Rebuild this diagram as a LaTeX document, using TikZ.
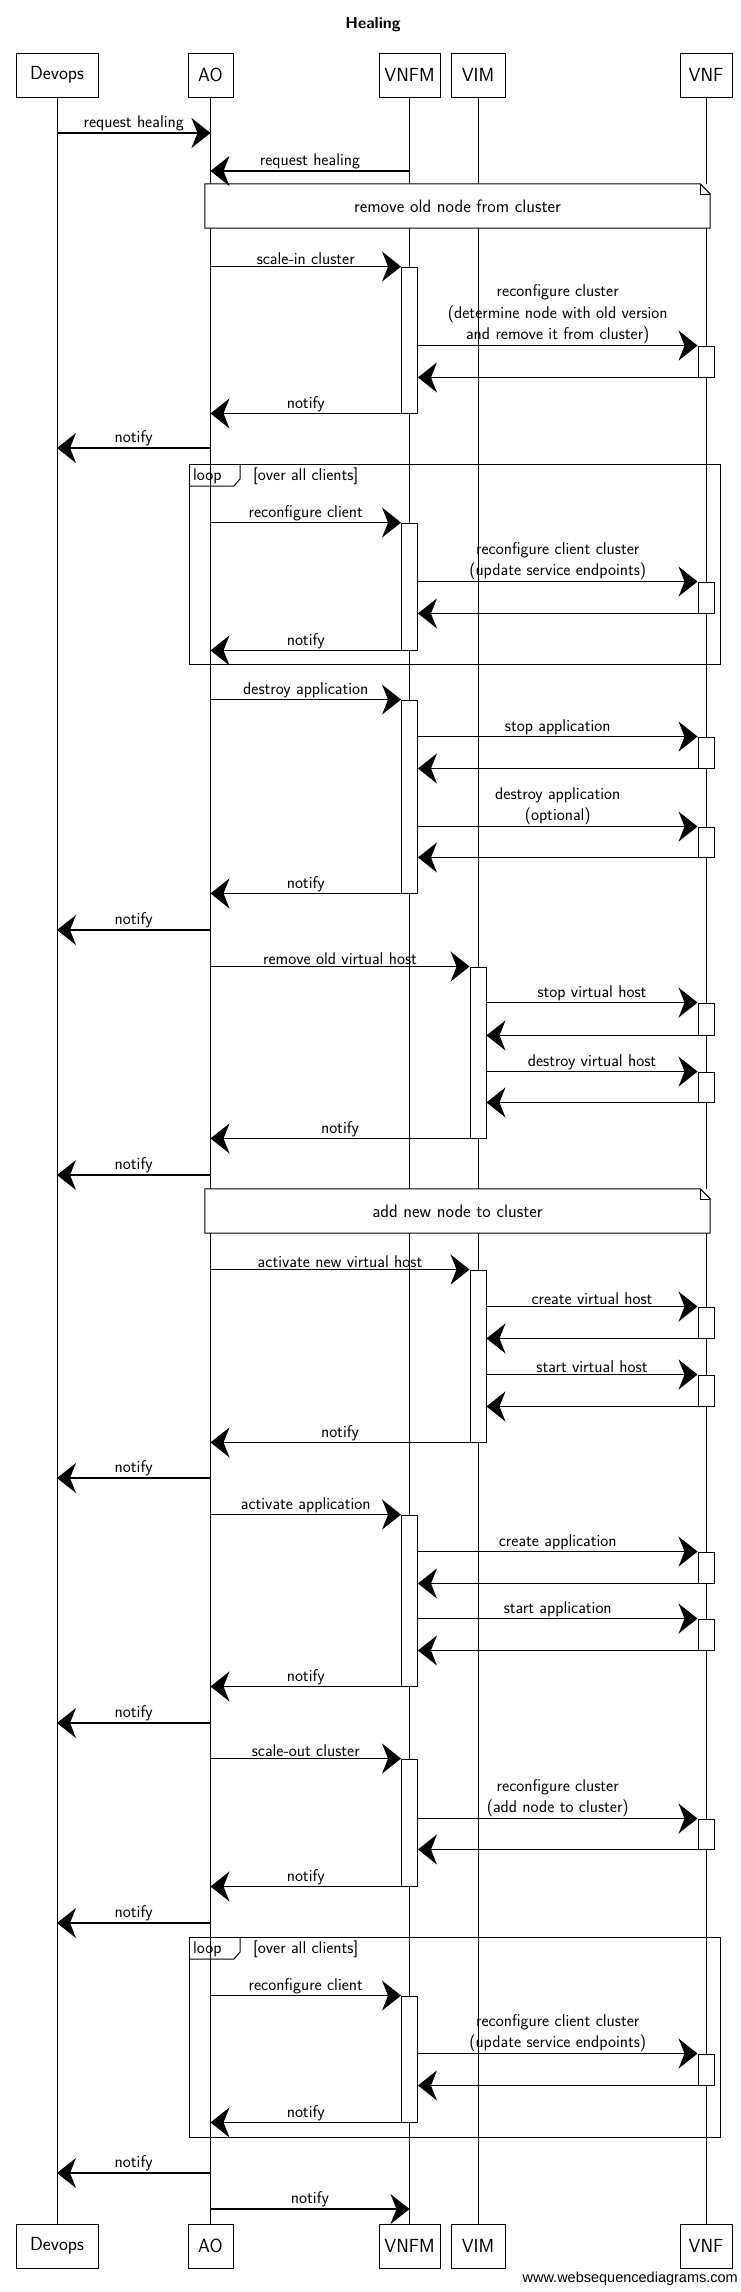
\documentclass[tikz,border=0pt]{standalone}
\usepackage{fontspec}
\usetikzlibrary{arrows.meta}
\newfontfamily\wsdfont{Liberation Sans}

\tikzset{
	party/.style={draw, line width=1pt, minimum height=44, inner sep=2pt, font=\sffamily\fontsize{19}{21}\selectfont},
	life/.style={line width=0.7pt},
	actbar/.style={draw, fill=white, line width=0.9pt, minimum width=16, inner sep=0pt},
	msg/.style={line width=1.5pt, -{Stealth[length=19pt, width=30pt, inset=6pt]}},
	lbl/.style={above, inner sep=1pt, align=center, font=\sffamily\fontsize{17}{21.5}\selectfont},
	notebox/.style={fill=white, minimum width=505, minimum height=44, inner sep=0pt, font=\sffamily\fontsize{18}{20}\selectfont},
	frame/.style={line width=1pt},
	tag/.style={anchor=west, inner sep=1pt, font=\sffamily\fontsize{17}{19}\selectfont}
}
% activation bar on a lifeline from y=#2 to y=#3
\def\actbox(#1,#2,#3)#4{\node[actbar, minimum height={#3-#2}] (#4) at (#1 |- 0,{(#2+#3)/2}) {};}

\begin{document}
\begin{tikzpicture}[x=1pt, y=-1pt]
	%%%%% START %%%%%
	
	\useasboundingbox[fill=white] (0,0) rectangle (741,2292);
	
	\node[font=\sffamily\bfseries\fontsize{16}{18}\selectfont] (title) at (373,25) {Healing};
	
	\node[party, minimum width=82] (devops) at (57,75) {Devops};
	\node[party, minimum width=45] (ao) at (210.5,75) {AO};
	\node[party, minimum width=61] (vnfm) at (409.5,75) {VNFM};
	\node[party, minimum width=54] (vim) at (478,75) {VIM};
	\node[party, minimum width=52] (vnf) at (706,75) {VNF};
	
	\node[party, minimum width=82] (devopsB) at (57,2246) {Devops};
	\node[party, minimum width=45] (aoB) at (210.5,2246) {AO};
	\node[party, minimum width=61] (vnfmB) at (409.5,2246) {VNFM};
	\node[party, minimum width=54] (vimB) at (478,2246) {VIM};
	\node[party, minimum width=52] (vnfB) at (706,2246) {VNF};
	
	\draw[life] (devops) -- (devopsB);
	\draw[life] (ao) -- (aoB);
	\draw[life] (vnfm) -- (vnfmB);
	\draw[life] (vim) -- (vimB);
	\draw[life] (vnf) -- (vnfB);
	
	\node[anchor=east, inner sep=0pt, font=\wsdfont\fontsize{14.5}{16}\selectfont] (wsd) at (738,2279) {www.websequencediagrams.com};
	
	%%%%% notes and loops %%%%%
	
	\node[notebox] (noteA) at (457.5,206) {remove old node from cluster};
	\draw[frame] (noteA.south west) -- (noteA.north west) -- ([xshift=-10pt]noteA.north east) -- ([yshift=-10pt]noteA.north east) -- (noteA.south east) -- cycle;
	\draw[line width=0.6pt] ([xshift=-10pt]noteA.north east) |- ([yshift=-10pt]noteA.north east);
	
	\node[notebox] (noteB) at (457.5,1211) {add new node to cluster};
	\draw[frame] (noteB.south west) -- (noteB.north west) -- ([xshift=-10pt]noteB.north east) -- ([yshift=-10pt]noteB.north east) -- (noteB.south east) -- cycle;
	\draw[line width=0.6pt] ([xshift=-10pt]noteB.north east) |- ([yshift=-10pt]noteB.north east);
	
	\draw[frame] (189,464) rectangle (720,664);
	\draw[frame] (189,486) -- (234,486) -- (240,479) -- (240,464);
	\node[tag] (loopA) at (192,476) {loop};
	\node[tag] (condA) at (252,476) {[over all clients]};
	
	\draw[frame] (189,1937) rectangle (720,2137);
	\draw[frame] (189,1959) -- (234,1959) -- (240,1952) -- (240,1937);
	\node[tag] (loopB) at (192,1949) {loop};
	\node[tag] (condB) at (252,1949) {[over all clients]};
	
	%%%%% activation bars %%%%%
	
	\actbox(vnfm,267,413){scalein}
	\actbox(vnf,346,377){clusterA}
	\actbox(vnfm,523,650){clientA}
	\actbox(vnf,582,613){reconfA}
	\actbox(vnfm,700,893){destroyapp}
	\actbox(vnf,737,768){stopapp}
	\actbox(vnf,827,857){destroyopt}
	\actbox(vim,967,1138){rmhost}
	\actbox(vnf,1003,1035){stophost}
	\actbox(vnf,1072,1102){destroyhost}
	\actbox(vim,1270,1442){newhost}
	\actbox(vnf,1307,1338){createhost}
	\actbox(vnf,1375,1406){starthost}
	\actbox(vnfm,1515,1686){actapp}
	\actbox(vnf,1552,1583){createapp}
	\actbox(vnf,1619,1650){startapp}
	\actbox(vnfm,1759,1886){scaleout}
	\actbox(vnf,1819,1849){clusterB}
	\actbox(vnfm,1996,2122){clientB}
	\actbox(vnf,2054,2085){reconfB}
	
	%%%%% messages %%%%%
	
	\draw[msg] (devops |- 0,133) -- node[lbl] {request healing} (ao |- 0,133);
	\draw[msg] (vnfm |- 0,171) -- node[lbl] {request healing} (ao |- 0,171);
	
	\draw[msg] (ao |- scalein.north) -- node[lbl] {scale-in cluster} (scalein.north west);
	\draw[msg] (scalein.east |- clusterA.north) -- node[lbl] {reconfigure cluster\\(determine node with old version\\and remove it from cluster)} (clusterA.north west);
	\draw[msg] (clusterA.south west) -- (scalein.east |- clusterA.south);
	\draw[msg] (scalein.south west) -- node[lbl] {notify} (ao |- scalein.south);
	\draw[msg] (ao |- 0,448) -- node[lbl] {notify} (devops |- 0,448);
	
	\draw[msg] (ao |- clientA.north) -- node[lbl] {reconfigure client} (clientA.north west);
	\draw[msg] (clientA.east |- reconfA.north) -- node[lbl] {reconfigure client cluster\\(update service endpoints)} (reconfA.north west);
	\draw[msg] (reconfA.south west) -- (clientA.east |- reconfA.south);
	\draw[msg] (clientA.south west) -- node[lbl] {notify} (ao |- clientA.south);
	
	\draw[msg] (ao |- destroyapp.north) -- node[lbl] {destroy application} (destroyapp.north west);
	\draw[msg] (destroyapp.east |- stopapp.north) -- node[lbl] {stop application} (stopapp.north west);
	\draw[msg] (stopapp.south west) -- (destroyapp.east |- stopapp.south);
	\draw[msg] (destroyapp.east |- destroyopt.north) -- node[lbl] {destroy application\\(optional)} (destroyopt.north west);
	\draw[msg] (destroyopt.south west) -- (destroyapp.east |- destroyopt.south);
	\draw[msg] (destroyapp.south west) -- node[lbl] {notify} (ao |- destroyapp.south);
	\draw[msg] (ao |- 0,930) -- node[lbl] {notify} (devops |- 0,930);
	
	\draw[msg] (ao |- rmhost.north) -- node[lbl] {remove old virtual host} (rmhost.north west);
	\draw[msg] (rmhost.east |- stophost.north) -- node[lbl] {stop virtual host} (stophost.north west);
	\draw[msg] (stophost.south west) -- (rmhost.east |- stophost.south);
	\draw[msg] (rmhost.east |- destroyhost.north) -- node[lbl] {destroy virtual host} (destroyhost.north west);
	\draw[msg] (destroyhost.south west) -- (rmhost.east |- destroyhost.south);
	\draw[msg] (rmhost.south west) -- node[lbl] {notify} (ao |- rmhost.south);
	\draw[msg] (ao |- 0,1175) -- node[lbl] {notify} (devops |- 0,1175);
	
	\draw[msg] (ao |- newhost.north) -- node[lbl] {activate new virtual host} (newhost.north west);
	\draw[msg] (newhost.east |- createhost.north) -- node[lbl] {create virtual host} (createhost.north west);
	\draw[msg] (createhost.south west) -- (newhost.east |- createhost.south);
	\draw[msg] (newhost.east |- starthost.north) -- node[lbl] {start virtual host} (starthost.north west);
	\draw[msg] (starthost.south west) -- (newhost.east |- starthost.south);
	\draw[msg] (newhost.south west) -- node[lbl] {notify} (ao |- newhost.south);
	\draw[msg] (ao |- 0,1478) -- node[lbl] {notify} (devops |- 0,1478);
	
	\draw[msg] (ao |- actapp.north) -- node[lbl] {activate application} (actapp.north west);
	\draw[msg] (actapp.east |- createapp.north) -- node[lbl] {create application} (createapp.north west);
	\draw[msg] (createapp.south west) -- (actapp.east |- createapp.south);
	\draw[msg] (actapp.east |- startapp.north) -- node[lbl] {start application} (startapp.north west);
	\draw[msg] (startapp.south west) -- (actapp.east |- startapp.south);
	\draw[msg] (actapp.south west) -- node[lbl] {notify} (ao |- actapp.south);
	\draw[msg] (ao |- 0,1723) -- node[lbl] {notify} (devops |- 0,1723);
	
	\draw[msg] (ao |- scaleout.north) -- node[lbl] {scale-out cluster} (scaleout.north west);
	\draw[msg] (scaleout.east |- clusterB.north) -- node[lbl] {reconfigure cluster\\(add node to cluster)} (clusterB.north west);
	\draw[msg] (clusterB.south west) -- (scaleout.east |- clusterB.south);
	\draw[msg] (scaleout.south west) -- node[lbl] {notify} (ao |- scaleout.south);
	\draw[msg] (ao |- 0,1923) -- node[lbl] {notify} (devops |- 0,1923);
	
	\draw[msg] (ao |- clientB.north) -- node[lbl] {reconfigure client} (clientB.north west);
	\draw[msg] (clientB.east |- reconfB.north) -- node[lbl] {reconfigure client cluster\\(update service endpoints)} (reconfB.north west);
	\draw[msg] (reconfB.south west) -- (clientB.east |- reconfB.south);
	\draw[msg] (clientB.south west) -- node[lbl] {notify} (ao |- clientB.south);
	\draw[msg] (ao |- 0,2173) -- node[lbl] {notify} (devops |- 0,2173);
	\draw[msg] (ao |- 0,2209) -- node[lbl] {notify} (vnfm |- 0,2209);
	
	%%%%% END %%%%%
\end{tikzpicture}
\end{document}
